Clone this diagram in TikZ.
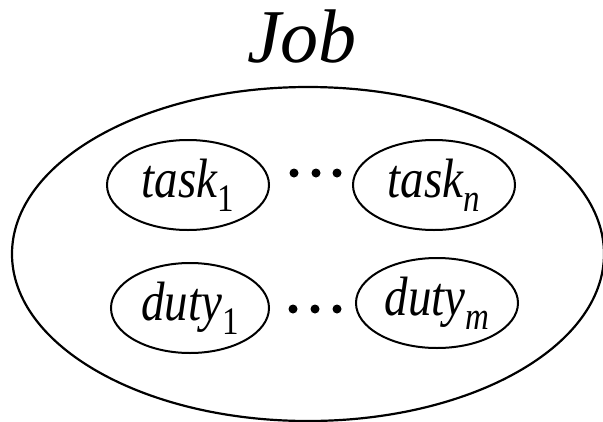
\documentclass[tikz,border=0pt]{standalone}
\usepackage{fontspec}
\usepackage{graphicx}
\setmainfont{Liberation Serif}
\usetikzlibrary{shapes.geometric}
\newcommand\mylbl[2]{\scalebox{1}[1.18]{{\fontsize{47}{50}\selectfont\itshape #1}\raisebox{-12pt}{\fontsize{33}{33}\selectfont #2}}}
\tikzset{
  outerell/.style={draw, line width=2.2pt},
  inell/.style={draw, ellipse, line width=2pt, inner sep=0pt, minimum width=162pt, minimum height=90pt},
  dotmark/.style={fill, circle, inner sep=0pt, minimum size=9pt},
}
\begin{document}
\begin{tikzpicture}[x=1pt,y=-1pt]
\useasboundingbox (0,0) rectangle (603,421);
\node[anchor=base, font=\fontsize{76}{80}\selectfont\itshape] (title) at (302,62) {Job};
\draw[outerell] (308,254) ellipse [x radius=296, y radius=167];
\node[inell] (t1) at (188,185) {\mylbl{task}{1}};
\node[inell] (tn) at (434,185) {\mylbl{task}{\textit{n}}};
\node[inell, minimum width=158pt] (d1) at (190,308) {\mylbl{duty}{1}};
\node[inell] (dm) at (437,303) {\mylbl{duty}{\textit{m}}};
\node[dotmark] (a1) at (294,173) {};
\node[dotmark] (a2) at (316,173) {};
\node[dotmark] (a3) at (337,173) {};
\node[dotmark] (b1) at (293,309) {};
\node[dotmark] (b2) at (315,309) {};
\node[dotmark] (b3) at (337,309) {};
\end{tikzpicture}
\end{document}
